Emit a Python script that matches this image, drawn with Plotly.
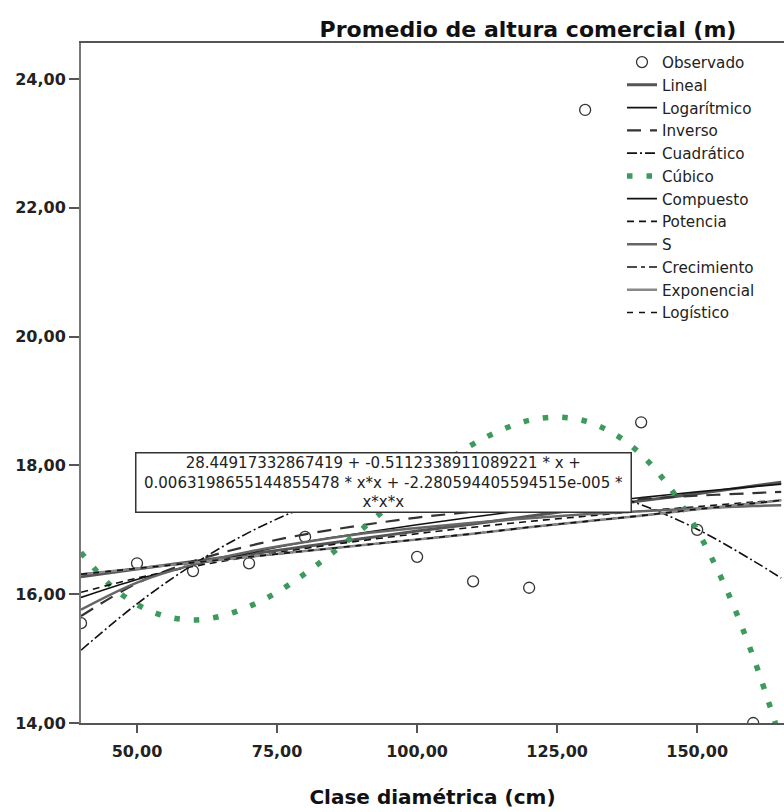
import plotly.graph_objects as go

# ---------------- data ----------------
x_obs = [40, 50, 60, 70, 80, 100, 110, 120, 130, 140, 150, 160]
y_obs = [15.55, 16.48, 16.36, 16.48, 16.89, 16.58, 16.20, 16.10, 23.52, 18.67, 17.00, 14.00]

x_fit = [40, 50, 60, 70, 80, 90, 100, 110, 120, 130, 140, 150, 160, 165]
lineal      = [16.27, 16.39, 16.51, 16.62, 16.74, 16.86, 16.98, 17.09, 17.21, 17.33, 17.45, 17.56, 17.68, 17.74]
logaritmico = [15.95, 16.23, 16.45, 16.64, 16.81, 16.95, 17.08, 17.20, 17.31, 17.41, 17.50, 17.59, 17.67, 17.71]
inverso     = [15.66, 16.17, 16.51, 16.75, 16.93, 17.07, 17.19, 17.28, 17.36, 17.42, 17.48, 17.53, 17.57, 17.59]
cuadratico  = [15.13, 15.85, 16.46, 16.96, 17.35, 17.63, 17.81, 17.87, 17.82, 17.66, 17.39, 17.01, 16.52, 16.25]
compuesto   = [16.31, 16.40, 16.49, 16.58, 16.67, 16.76, 16.85, 16.94, 17.04, 17.13, 17.22, 17.32, 17.41, 17.46]
potencia    = [16.03, 16.25, 16.43, 16.58, 16.71, 16.83, 16.94, 17.04, 17.13, 17.21, 17.29, 17.36, 17.43, 17.46]
s_curva     = [15.76, 16.18, 16.46, 16.66, 16.81, 16.94, 17.03, 17.11, 17.18, 17.24, 17.29, 17.33, 17.37, 17.38]
crecimiento = [16.31, 16.40, 16.49, 16.58, 16.67, 16.76, 16.85, 16.94, 17.04, 17.13, 17.22, 17.32, 17.41, 17.46]
exponencial = [16.31, 16.40, 16.49, 16.58, 16.67, 16.76, 16.85, 16.94, 17.04, 17.13, 17.22, 17.32, 17.41, 17.46]
logistico   = [16.31, 16.40, 16.49, 16.58, 16.67, 16.76, 16.85, 16.94, 17.04, 17.13, 17.22, 17.32, 17.41, 17.46]

x_cub = [40, 45, 50, 55, 60, 65, 70, 75, 80, 85, 90, 95, 100, 105, 110, 115, 120,
         125, 130, 135, 140, 145, 150, 155, 160, 165]
cubico = [16.65, 16.16, 15.84, 15.66, 15.60, 15.66, 15.81, 16.03, 16.32, 16.65, 17.00,
          17.37, 17.72, 18.05, 18.33, 18.55, 18.70, 18.75, 18.69, 18.50, 18.17, 17.67,
          16.99, 16.12, 15.03, 13.71]

x_ticks = [50, 75, 100, 125, 150]
y_ticks = [14, 16, 18, 20, 22, 24]

equation = ("28.44917332867419 + -0.5112338911089221 * x +<br>"
            "0.0063198655144855478 * x*x + -2.280594405594515e-005 *<br>"
            "x*x*x")

# ---------------- figure ----------------
fig = go.Figure()

fig.add_trace(go.Scatter(
    x=x_obs, y=y_obs, mode="markers", name="Observado",
    marker=dict(symbol="circle-open", size=11, color="#333333", line=dict(width=1.3)),
))

fits = [
    ("Lineal", x_fit, lineal, dict(color="#555555", width=3)),
    ("Logarítmico", x_fit, logaritmico, dict(color="#111111", width=1.6)),
    ("Inverso", x_fit, inverso, dict(color="#333333", width=2.2, dash="14px,9px")),
    ("Cuadrático", x_fit, cuadratico, dict(color="#111111", width=1.6, dash="10px,3px,2px,3px")),
    ("Cúbico", x_cub, cubico, dict(color="#3d9a5c", width=5.5, dash="5.5px,14px")),
    ("Compuesto", x_fit, compuesto, dict(color="#111111", width=1.6)),
    ("Potencia", x_fit, potencia, dict(color="#111111", width=1.6, dash="7px,5px")),
    ("S", x_fit, s_curva, dict(color="#666666", width=2.5)),
    ("Crecimiento", x_fit, crecimiento, dict(color="#111111", width=1.6, dash="10px,4px,4px,4px")),
    ("Exponencial", x_fit, exponencial, dict(color="#888888", width=2.5)),
    ("Logístico", x_fit, logistico, dict(color="#111111", width=1.6, dash="6px,6px")),
]
for name, xs, ys, ln in fits:
    fig.add_trace(go.Scatter(x=xs, y=ys, mode="lines", name=name,
                             line=dict(shape="spline", **ln)))

fig.add_annotation(
    text=equation, xref="paper", yref="paper",
    x=(383.5 - 81) / 703, y=(723 - 483) / 680, xanchor="center", yanchor="middle",
    showarrow=False, align="center",
    font=dict(family="DejaVu Sans", size=15, color="#222222"),
    bgcolor="white", bordercolor="#333333", borderwidth=1.5, borderpad=1,
    width=492, height=56,
)

tickfont = dict(family="DejaVu Sans", size=16, color="#222222", weight="bold")
fig.update_layout(
    width=784, height=812,
    margin=dict(l=81, r=0, t=43, b=89, autoexpand=False),
    paper_bgcolor="white", plot_bgcolor="white",
    separators=",.",
    title=dict(text="Promedio de altura comercial (m)", x=528 / 784, xref="container",
               xanchor="center", y=1 - 29 / 812, yref="container", yanchor="middle",
               font=dict(family="DejaVu Sans", size=22, color="#111111", weight="bold")),
    legend=dict(x=(622 - 81) / 703, y=0.996, xanchor="left", yanchor="top",
                bgcolor="rgba(0,0,0,0)", borderwidth=0,
                font=dict(family="DejaVu Sans", size=15.2, color="#222222"),
                itemwidth=30),
    showlegend=True,
)
fig.update_xaxes(
    range=[40, 165.5], tickvals=x_ticks, tickformat=".2f", automargin=False,
    showgrid=False, zeroline=False, showline=True, linecolor="#555555", linewidth=2,
    mirror=True, ticks="outside", ticklen=8, tickwidth=2, tickcolor="#555555",
    tickfont=tickfont, ticklabelstandoff=5,
    title=dict(text="Clase diamétrica (cm)", standoff=30,
               font=dict(family="DejaVu Sans", size=20, color="#111111", weight="bold")),
)
fig.update_yaxes(
    range=[14, 24.56], tickvals=y_ticks, tickformat=".2f", automargin=False,
    showgrid=False, zeroline=False, showline=True, linecolor="#777777", linewidth=2,
    ticks="outside", ticklen=10, tickwidth=2, tickcolor="#555555",
    tickfont=tickfont,
)

fig.write_html("out.html", config={"displayModeBar": False},
               post_script="document.body.style.margin='0px';")
